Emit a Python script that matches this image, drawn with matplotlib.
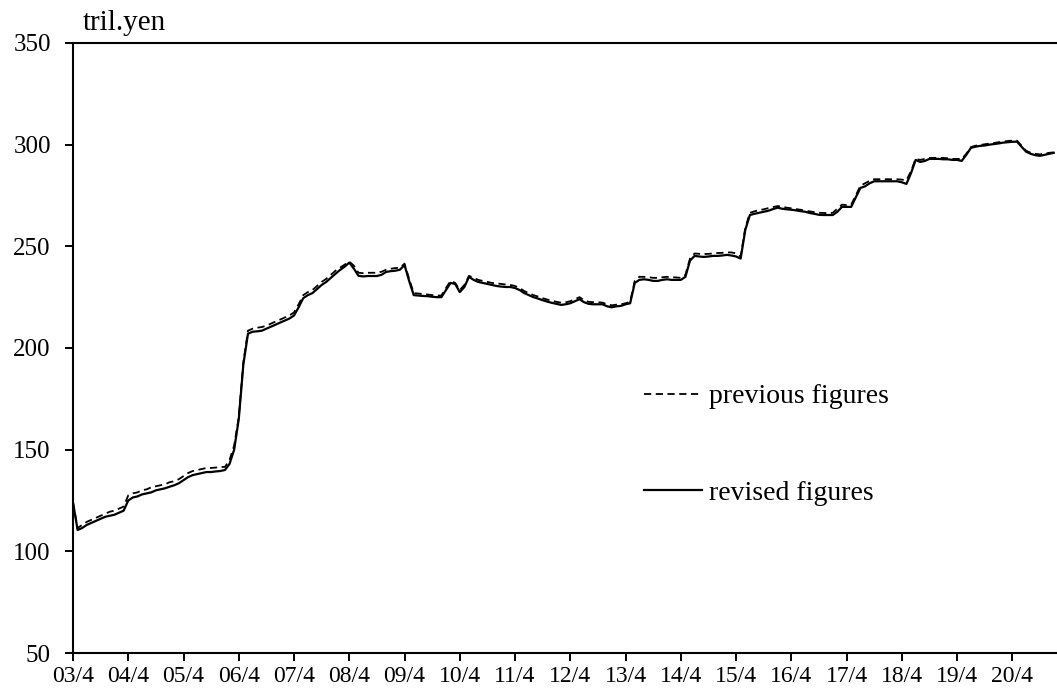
import matplotlib

matplotlib.use("Agg")
import matplotlib.pyplot as plt

# monthly values, April 2003 .. January 2021 (trillion yen)
revised = [
    124.0, 110.5, 111.5, 113.0, 114.0, 115.0, 116.0, 117.0, 117.5, 118.0, 119.0, 120.0,
    125.0, 126.5, 127.0, 128.0, 128.5, 129.0, 130.0, 130.5, 131.0, 131.8, 132.5, 133.5,
    135.0, 136.5, 137.5, 138.0, 138.5, 139.0, 139.0, 139.3, 139.5, 140.0, 143.0, 150.0,
    165.0, 192.0, 207.0, 208.0, 208.2, 208.5, 209.5, 210.5, 211.5, 212.5, 213.5, 214.5,
    216.0, 220.0, 224.5, 226.0, 227.0, 229.0, 231.0, 232.5, 234.5, 236.5, 238.4, 240.0,
    242.0, 239.0, 235.5, 235.2, 235.4, 235.4, 235.4, 236.0, 237.4, 237.8, 238.0, 238.5,
    240.8, 233.0, 226.0, 225.8, 225.6, 225.5, 225.2, 225.0, 225.0, 228.5, 232.0, 231.5,
    227.5, 230.0, 235.0, 233.5, 232.5, 232.0, 231.5, 231.0, 230.5, 230.2, 230.0, 230.0,
    229.5, 228.5, 227.0, 226.0, 225.0, 224.3, 223.5, 222.8, 222.2, 221.7, 221.2, 221.5,
    222.0, 223.0, 224.0, 222.5, 221.7, 221.5, 221.5, 221.5, 220.5, 220.0, 220.5, 220.7,
    221.5, 222.0, 232.0, 233.5, 233.8, 233.5, 233.0, 233.0, 233.5, 233.8, 233.5, 233.5,
    233.5, 235.0, 243.0, 245.3, 245.0, 244.8, 245.0, 245.3, 245.3, 245.5, 245.8, 245.5,
    245.0, 244.0, 258.0, 265.4, 266.0, 266.5, 267.0, 267.5, 268.3, 269.0, 268.5, 268.2,
    268.0, 267.7, 267.3, 267.0, 266.4, 266.0, 265.5, 265.4, 265.4, 265.4, 267.0, 269.4,
    269.4, 269.4, 274.0, 278.7, 279.5, 281.0, 282.0, 282.0, 282.0, 282.0, 282.0, 282.0,
    281.5, 280.7, 286.0, 292.5, 291.5, 292.0, 293.0, 293.0, 293.0, 292.8, 292.8, 292.5,
    292.5, 292.0, 295.0, 298.4, 299.0, 299.4, 299.6, 300.0, 300.3, 300.6, 301.0, 301.2,
    301.4, 301.5, 299.0, 296.5, 295.5, 294.8, 294.5, 295.0, 295.5, 296.0,
]

previous = [
    124.0, 111.5, 113.0, 114.5, 115.5, 116.5, 117.5, 118.5, 119.5, 120.0, 121.0, 122.0,
    127.5, 128.5, 129.0, 130.0, 130.5, 131.5, 132.0, 132.5, 133.0, 134.0, 134.5, 135.5,
    137.0, 138.5, 139.5, 140.0, 140.5, 141.0, 141.0, 141.2, 141.5, 141.5, 145.0, 152.0,
    166.0, 193.0, 208.5, 209.5, 210.0, 210.3, 211.0, 212.0, 213.0, 214.0, 215.0, 216.0,
    217.5, 221.5, 226.0, 227.5, 228.5, 230.5, 232.5, 234.0, 236.0, 238.0, 239.5, 241.0,
    242.5, 240.5, 237.0, 236.8, 237.0, 237.0, 237.0, 237.5, 238.5, 239.0, 239.3, 239.5,
    241.5, 234.0, 227.0, 226.8, 226.5, 226.3, 226.0, 225.8, 225.8, 229.5, 233.0, 232.0,
    228.5, 231.0, 235.5, 234.5, 233.5, 233.0, 232.5, 232.0, 231.8, 231.5, 231.2, 231.0,
    230.5, 229.5, 228.0, 227.0, 226.0, 225.3, 224.5, 223.8, 223.2, 222.7, 222.3, 222.5,
    223.0, 224.0, 225.0, 223.5, 222.7, 222.5, 222.5, 222.3, 221.5, 221.0, 221.3, 221.5,
    222.0, 222.8, 233.0, 235.0, 235.0, 234.8, 234.5, 234.5, 234.8, 235.0, 234.8, 234.7,
    234.5, 236.0, 244.0, 246.5, 246.3, 246.2, 246.3, 246.5, 246.7, 246.8, 247.0, 247.0,
    246.5, 245.0, 259.0, 266.5, 267.2, 267.8, 268.2, 268.8, 269.3, 269.8, 269.5, 269.0,
    268.7, 268.3, 268.0, 267.6, 267.2, 266.8, 266.5, 266.4, 266.3, 266.5, 268.5, 270.5,
    270.3, 270.5, 275.0, 279.8, 281.0, 282.2, 283.0, 283.0, 283.0, 283.0, 283.0, 283.0,
    282.8, 282.5, 287.0, 293.0, 292.5, 293.0, 293.5, 293.5, 293.5, 293.5, 293.3, 293.0,
    293.0, 293.0, 295.5, 298.8, 299.5, 299.8, 300.2, 300.5, 300.8, 301.2, 301.5, 301.8,
    302.0, 302.0, 299.5, 297.0, 296.0, 295.5, 295.2, 295.5, 296.0, 296.2,
]

tick_labels = ["03/4", "04/4", "05/4", "06/4", "07/4", "08/4", "09/4", "10/4", "11/4",
               "12/4", "13/4", "14/4", "15/4", "16/4", "17/4", "18/4", "19/4", "20/4"]

plt.rcParams["font.family"] = ["Liberation Serif", "DejaVu Serif"]

months = list(range(len(revised)))

fig = plt.figure(figsize=(10.57, 6.93), dpi=100)
ax = fig.add_axes([73 / 1057, 40 / 693, 1 - 73 / 1057, 610 / 693])

ax.plot(months, previous, color="black", lw=1.3, ls=(0, (4, 2.5)), label="previous figures")
ax.plot(months, revised, color="black", lw=1.6, label="revised figures")

ax.set_xlim(0, 213.7)
ax.set_ylim(50, 350)
ax.set_yticks(range(50, 351, 50))
ax.set_xticks([12 * k for k in range(len(tick_labels))])
ax.set_xticklabels(tick_labels)

for side in ["left", "bottom", "top"]:
    ax.spines[side].set_linewidth(1.5)
ax.spines["right"].set_visible(False)
ax.tick_params(axis="y", direction="out", length=6, width=1.4, labelsize=18, pad=10)
ax.tick_params(axis="x", direction="out", length=6, width=1.4, labelsize=17, pad=3)

ax.annotate("tril.yen", xy=(0, 1), xycoords="axes fraction", xytext=(7, 5),
            textcoords="offset points", fontsize=21, ha="left", va="bottom")

ax.legend(loc="upper left", bbox_to_anchor=(630 / 1057, 1 - 370 / 693),
          bbox_transform=fig.transFigure, frameon=False, fontsize=20,
          handlelength=2.1, handletextpad=0.25, labelspacing=2.55, borderpad=0)

fig.savefig("out.png", dpi=100)
